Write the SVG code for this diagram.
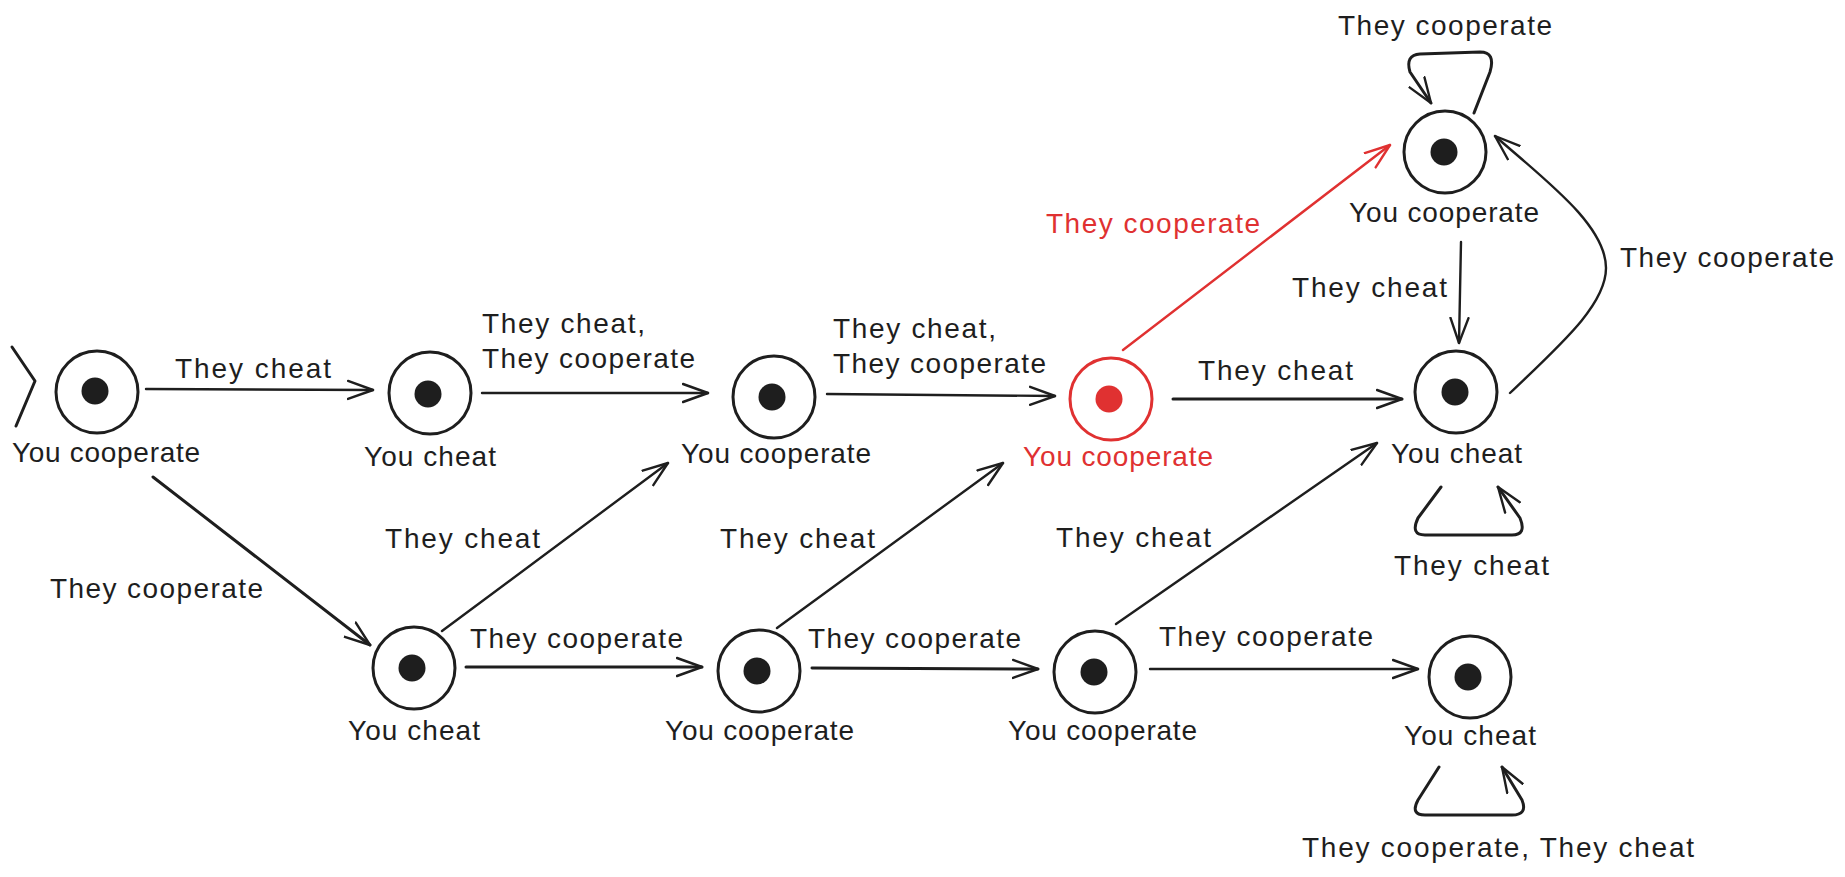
<svg xmlns="http://www.w3.org/2000/svg" width="1845" height="877" viewBox="0 0 1845 877">
<style>
.bg{fill:#ffffff}
.ring{fill:#ffffff;stroke:#1e1e1e;stroke-width:3}
.dot{fill:#1e1e1e}
.ring.red{stroke:#e03131}
.dot.red{fill:#e03131}
.edge{fill:none;stroke:#1e1e1e;stroke-width:2.4;stroke-linecap:round;stroke-linejoin:round;marker-end:url(#arr)}
.edge.red{stroke:#e03131;marker-end:url(#arrRed)}
.edge.thick{stroke-width:3}
.t{font-family:"Liberation Sans",Arial,sans-serif;font-size:28px;fill:#1e1e1e}
.t.red{fill:#e03131}
</style>
<defs>
<marker id="arr" markerUnits="userSpaceOnUse" markerWidth="30" markerHeight="24" refX="26" refY="11" orient="auto" viewBox="0 0 30 24">
<path d="M1,2 L26,11 L1,20" fill="none" stroke="#1e1e1e" stroke-width="2.4" stroke-linecap="round" stroke-linejoin="round"/>
</marker>
<marker id="arrRed" markerUnits="userSpaceOnUse" markerWidth="30" markerHeight="24" refX="26" refY="11" orient="auto" viewBox="0 0 30 24">
<path d="M1,2 L26,11 L1,20" fill="none" stroke="#e03131" stroke-width="2.4" stroke-linecap="round" stroke-linejoin="round"/>
</marker>
</defs>
<rect class="bg" x="0" y="0" width="1845" height="877"/>

<g id="connectors">
<polyline id="start" points="12,347 35,381 16,426" fill="none" stroke="#1e1e1e" stroke-width="3" stroke-linecap="round" stroke-linejoin="round"/>
<path class="edge" d="M146,389 L373,390"/>
<path class="edge thick" d="M153,477 L370,645"/>
<path class="edge" d="M482,393 L708,393"/>
<path class="edge" d="M827,394 L1055,396"/>
<path class="edge" d="M442,631 L668,463"/>
<path class="edge thick" d="M466,667 L702,667"/>
<path class="edge" d="M777,628 L1003,463"/>
<path class="edge thick" d="M812,668 L1038,669"/>
<path class="edge red" d="M1123,350 L1390,145"/>
<path class="edge thick" d="M1173,399 L1402,399"/>
<path class="edge" d="M1116,624 L1377,443"/>
<path class="edge" d="M1150,669 L1418,669"/>
<path class="edge" d="M1461,242 L1459,343"/>
<path class="edge" d="M1510,393 C1560,345 1606,305 1606,268 C1606,225 1545,180 1495,136"/>
<path class="edge thick" d="M1474,113 L1490,72 Q1496,52 1480,52 L1420,54 Q1405,55 1410,72 L1431,103"/>
<path class="edge thick" d="M1441,487 L1418,518 Q1410,535 1425,535 L1512,535 Q1527,535 1520,518 L1498,487"/>
<path class="edge thick" d="M1439,767 L1418,800 Q1410,815 1425,815 L1512,815 Q1528,815 1522,800 L1502,767"/>

<text class="t" x="175" y="378" textLength="156" lengthAdjust="spacing">They cheat</text>
<text class="t" x="50" y="598" textLength="213" lengthAdjust="spacing">They cooperate</text>
<text class="t" x="482" y="333" textLength="163" lengthAdjust="spacing">They cheat,</text>
<text class="t" x="482" y="368" textLength="213" lengthAdjust="spacing">They cooperate</text>
<text class="t" x="833" y="338" textLength="163" lengthAdjust="spacing">They cheat,</text>
<text class="t" x="833" y="373" textLength="213" lengthAdjust="spacing">They cooperate</text>
<text class="t" x="385" y="548" textLength="155" lengthAdjust="spacing">They cheat</text>
<text class="t" x="720" y="548" textLength="155" lengthAdjust="spacing">They cheat</text>
<text class="t" x="470" y="648" textLength="213" lengthAdjust="spacing">They cooperate</text>
<text class="t" x="808" y="648" textLength="213" lengthAdjust="spacing">They cooperate</text>
<text class="t red" x="1046" y="233" textLength="214" lengthAdjust="spacing">They cooperate</text>
<text class="t" x="1198" y="380" textLength="155" lengthAdjust="spacing">They cheat</text>
<text class="t" x="1292" y="297" textLength="155" lengthAdjust="spacing">They cheat</text>
<text class="t" x="1056" y="547" textLength="155" lengthAdjust="spacing">They cheat</text>
<text class="t" x="1159" y="646" textLength="214" lengthAdjust="spacing">They cooperate</text>
<text class="t" x="1302" y="857" textLength="392" lengthAdjust="spacing">They cooperate, They cheat</text>
<text class="t" x="1338" y="35" textLength="214" lengthAdjust="spacing">They cooperate</text>
<text class="t" x="1620" y="267" textLength="214" lengthAdjust="spacing">They cooperate</text>
<text class="t" x="1394" y="575" textLength="155" lengthAdjust="spacing">They cheat</text>
</g>

<g id="node1">
<circle class="ring" cx="97" cy="392" r="41"/>
<circle class="dot" cx="95" cy="391" r="13.5"/>
<text class="t" x="12" y="462" textLength="188" lengthAdjust="spacing">You cooperate</text>
</g>
<g id="node2">
<circle class="ring" cx="430" cy="393" r="41"/>
<circle class="dot" cx="428" cy="394" r="13.5"/>
<text class="t" x="364" y="466" textLength="132" lengthAdjust="spacing">You cheat</text>
</g>
<g id="node3">
<circle class="ring" cx="774" cy="397" r="41"/>
<circle class="dot" cx="772" cy="397" r="13.5"/>
<text class="t" x="681" y="463" textLength="190" lengthAdjust="spacing">You cooperate</text>
</g>
<g id="node4">
<circle class="ring red" cx="1111" cy="399" r="41"/>
<circle class="dot red" cx="1109" cy="399" r="13.5"/>
<text class="t red" x="1023" y="466" textLength="190" lengthAdjust="spacing">You cooperate</text>
</g>
<g id="node5">
<circle class="ring" cx="1445" cy="152" r="41"/>
<circle class="dot" cx="1444" cy="152" r="13.5"/>
<text class="t" x="1349" y="222" textLength="190" lengthAdjust="spacing">You cooperate</text>
</g>
<g id="node6">
<circle class="ring" cx="1456" cy="392" r="41"/>
<circle class="dot" cx="1455" cy="392" r="13.5"/>
<text class="t" x="1391" y="463" textLength="131" lengthAdjust="spacing">You cheat</text>
</g>
<g id="node7">
<circle class="ring" cx="414" cy="668" r="41"/>
<circle class="dot" cx="412" cy="668" r="13.5"/>
<text class="t" x="348" y="740" textLength="132" lengthAdjust="spacing">You cheat</text>
</g>
<g id="node8">
<circle class="ring" cx="759" cy="671" r="41"/>
<circle class="dot" cx="757" cy="671" r="13.5"/>
<text class="t" x="665" y="740" textLength="189" lengthAdjust="spacing">You cooperate</text>
</g>
<g id="node9">
<circle class="ring" cx="1095" cy="672" r="41"/>
<circle class="dot" cx="1094" cy="672" r="13.5"/>
<text class="t" x="1008" y="740" textLength="189" lengthAdjust="spacing">You cooperate</text>
</g>
<g id="node10">
<circle class="ring" cx="1470" cy="677" r="41"/>
<circle class="dot" cx="1468" cy="677" r="13.5"/>
<text class="t" x="1404" y="745" textLength="132" lengthAdjust="spacing">You cheat</text>
</g>
</svg>
